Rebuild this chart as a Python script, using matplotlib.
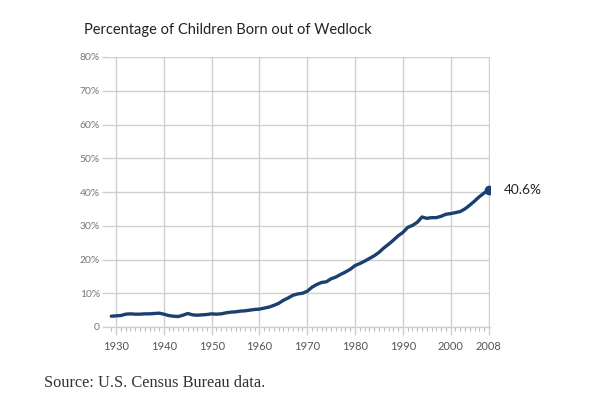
import numpy as np
import matplotlib.pyplot as plt
from matplotlib.ticker import MultipleLocator, FixedLocator

# Data (percent of births to unmarried mothers)
years = list(range(1929, 2009))
pct = [3.2, 3.3, 3.4, 3.8, 3.9, 3.8, 3.8, 3.9, 3.9, 4.0,
       4.1, 3.8, 3.4, 3.2, 3.1, 3.5, 4.0, 3.6, 3.5, 3.6,
       3.7, 3.9, 3.8, 3.9, 4.2, 4.4, 4.5, 4.7, 4.8, 5.0,
       5.2, 5.3, 5.6, 5.9, 6.4, 7.0, 7.9, 8.6, 9.4, 9.8,
       10.0, 10.6, 11.8, 12.6, 13.2, 13.4, 14.3, 14.8, 15.6, 16.3,
       17.1, 18.2, 18.8, 19.5, 20.3, 21.1, 22.1, 23.4, 24.5, 25.7,
       27.0, 28.0, 29.5, 30.1, 31.0, 32.6, 32.2, 32.4, 32.4, 32.8,
       33.4, 33.6, 33.9, 34.2, 35.0, 36.1, 37.3, 38.6, 39.7, 40.6]
x_ticks = [1930, 1940, 1950, 1960, 1970, 1980, 1990, 2000, 2008]
y_ticks = [0, 10, 20, 30, 40, 50, 60, 70, 80]
y_labels = ["0", "10%", "20%", "30%", "40%", "50%", "60%", "70%", "80%"]

SANS = ["Lato", "DejaVu Sans"]
LINE_COLOR = "#1b3f70"
GRID = "#cfcfcf"

fig = plt.figure(figsize=(6, 4), dpi=100)
ax = fig.add_axes([0.1807, 0.1825, 0.6357, 0.675])

ax.plot(years, pct, color=LINE_COLOR, linewidth=2.4, solid_capstyle="round",
        solid_joinstyle="round", zorder=3)
ax.plot(years[-1], pct[-1], "o", color=LINE_COLOR, markersize=6, zorder=4)
ax.annotate(f"{pct[-1]:.1f}%", (years[-1], pct[-1]), xytext=(11, 0),
            textcoords="offset points", va="center", ha="left",
            fontsize=9.8, color="#222222", family=SANS)

ax.set_xlim(1928.4, 2008.2)
ax.set_ylim(0, 80)

ax.xaxis.set_major_locator(FixedLocator(x_ticks))
ax.xaxis.set_minor_locator(MultipleLocator(1))
ax.set_yticks(y_ticks)
ax.set_yticklabels(y_labels)

ax.grid(True, which="major", color=GRID, linewidth=1.0)
ax.set_axisbelow(True)
for s in ["top", "right", "left"]:
    ax.spines[s].set_visible(False)
ax.spines["bottom"].set_color(GRID)
ax.spines["bottom"].set_linewidth(1.0)

ax.tick_params(axis="x", which="major", length=6, color=GRID, width=1.0,
               labelsize=8, labelcolor="#555555", pad=4)
ax.tick_params(axis="x", which="minor", length=3, color="#bbbbbb", width=0.8)
ax.tick_params(axis="y", which="major", length=4, color=GRID, width=1.0,
               labelsize=7.5, labelcolor="#777777", pad=2)
for lbl in ax.get_xticklabels() + ax.get_yticklabels():
    lbl.set_family(SANS)

fig.text(0.14, 0.925, "Percentage of Children Born out of Wedlock",
         fontsize=10.5, color="#222222", family=SANS, va="center", ha="left")
fig.text(0.073, 0.043, "Source: U.S. Census Bureau data.",
         fontsize=11.8, color="#333333", family=["Liberation Serif", "DejaVu Serif"],
         va="center", ha="left")

fig.savefig("out.png", dpi=100)
